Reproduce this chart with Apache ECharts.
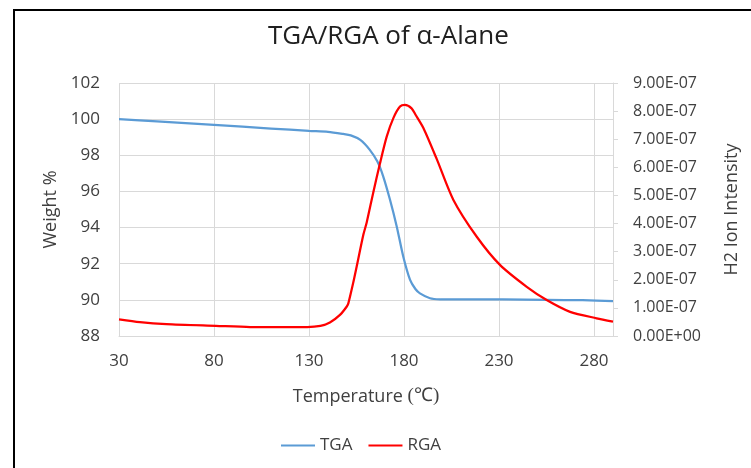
<!DOCTYPE html>
<html>
<head>
<meta charset="utf-8">
<title>TGA/RGA of α-Alane</title>
<script src="https://cdn.jsdelivr.net/npm/echarts@6/dist/echarts.min.js"></script>
<style>
    html, body { margin: 0; padding: 0; background: #fff; }
    #chart { width: 751px; height: 468px; }
</style>
</head>
<body>
<div id="chart"></div>
<script>
// TGA: weight % vs temperature
const tgaTemp = [30, 50, 80, 110, 130, 140, 148, 152, 157, 162, 166, 169, 172.6, 176.2, 179.6, 183.2, 186, 188.4, 193.7, 199, 210, 232, 255, 274, 290]
const tgaWeight = [100.0, 99.87, 99.68, 99.48, 99.35, 99.3, 99.18, 99.1, 98.85, 98.3, 97.65, 96.85, 95.55, 94.05, 92.4, 91.1, 90.6, 90.36, 90.09, 90.03, 90.02, 90.02, 90.0, 89.98, 89.93]

// RGA: H2 ion intensity vs temperature
const rgaTemp = [30, 41, 55, 81, 99, 129, 136, 141, 146.3, 149.8, 150.7, 153.3, 155.1, 158.6, 160.4, 163.8, 167.4, 170.9, 174.4, 177.9, 180.5, 184, 186, 190.2, 197.2, 206, 218.3, 230.5, 244.6, 255.1, 267.4, 281.4, 290]
const rgaIntensity = [0.59e-7, 0.49e-7, 0.42e-7, 0.36e-7, 0.32e-7, 0.32e-7, 0.36e-7, 0.48e-7, 0.75e-7, 1.04e-7, 1.16e-7, 1.9e-7, 2.47e-7, 3.6e-7, 4.05e-7, 5.1e-7, 6.15e-7, 7.09e-7, 7.75e-7, 8.16e-7, 8.22e-7, 8.1e-7, 7.88e-7, 7.4e-7, 6.3e-7, 4.84e-7, 3.53e-7, 2.53e-7, 1.75e-7, 1.28e-7, 0.86e-7, 0.63e-7, 0.51e-7]

const textColor = '#404040'
const gridColor = '#d9d9d9'
const font = 'Open Sans'

function sci(v) {
    const [m, e] = v.toExponential(2).split('e')
    const n = parseInt(e, 10)
    return m + 'E' + (n < 0 ? '-' : '+') + String(Math.abs(n)).padStart(2, '0')
}

const myChart = echarts.init(document.getElementById('chart'))
myChart.setOption({
    animation: false,
    textStyle: { fontFamily: font, color: textColor },
    title: {
        text: 'TGA/RGA of α-Alane',
        left: 263,
        top: 19,
        textStyle: { fontFamily: font, fontSize: 26, fontWeight: 'normal', color: '#202020' }
    },
    graphic: [
        {   // chart frame
            type: 'rect',
            shape: { x: 14, y: 10, width: 800, height: 500 },
            style: { fill: 'none', stroke: '#000', lineWidth: 2 },
            silent: true
        }
    ],
    legend: {
        bottom: 9,
        left: 276,
        icon: 'rect',
        itemWidth: 34,
        itemHeight: 2,
        itemGap: 16,
        textStyle: { fontFamily: font, fontSize: 17, color: textColor },
        data: ['TGA', 'RGA']
    },
    grid: { left: 119, right: 138, top: 83, bottom: 132 },
    xAxis: {
        type: 'value',
        min: 30,
        max: 290,
        interval: 50,
        name: 'Temperature {s|(℃)}',
        nameLocation: 'middle',
        nameGap: 51,
        nameTextStyle: {
            fontFamily: font, fontSize: 18, color: textColor,
            rich: { s: { fontFamily: 'Liberation Serif', fontSize: 19, color: textColor } }
        },
        axisLine: { lineStyle: { color: gridColor, width: 1 } },
        axisTick: { show: false },
        axisLabel: { showMaxLabel: false, margin: 17, fontSize: 17, color: textColor, fontFamily: font },
        splitLine: { show: true, lineStyle: { color: gridColor } }
    },
    yAxis: [
        {
            type: 'value',
            min: 88,
            max: 102,
            interval: 2,
            name: 'Weight %',
            nameLocation: 'middle',
            nameGap: 57,
            nameTextStyle: { fontFamily: font, fontSize: 18, color: textColor },
            axisLine: { show: false },
            axisTick: { show: false },
            axisLabel: { margin: 19, fontSize: 17, color: textColor, fontFamily: font },
            splitLine: { show: true, lineStyle: { color: gridColor } }
        },
        {
            type: 'value',
            position: 'right',
            min: 0,
            max: 9e-7,
            interval: 1e-7,
            name: 'H2 Ion Intensity',
            nameLocation: 'middle',
            nameGap: 110,
            nameRotate: 90,
            nameTextStyle: { fontFamily: font, fontSize: 18, color: textColor },
            axisLine: { show: true, lineStyle: { color: gridColor } },
            axisTick: { show: true, length: 5, lineStyle: { color: gridColor } },
            axisLabel: { margin: 20, fontSize: 16, color: textColor, fontFamily: font, formatter: sci },
            splitLine: { show: false }
        }
    ],
    series: [
        {
            name: 'TGA',
            type: 'line',
            yAxisIndex: 0,
            smooth: 0.25,
            symbol: 'none',
            lineStyle: { color: '#5b9bd5', width: 2.25 },
            itemStyle: { color: '#5b9bd5' },
            data: tgaTemp.map((t, i) => [t, tgaWeight[i]])
        },
        {
            name: 'RGA',
            type: 'line',
            yAxisIndex: 1,
            smooth: 0.25,
            symbol: 'none',
            lineStyle: { color: '#ff0000', width: 2.25 },
            itemStyle: { color: '#ff0000' },
            data: rgaTemp.map((t, i) => [t, rgaIntensity[i]])
        }
    ]
})
</script>
</body>
</html>
